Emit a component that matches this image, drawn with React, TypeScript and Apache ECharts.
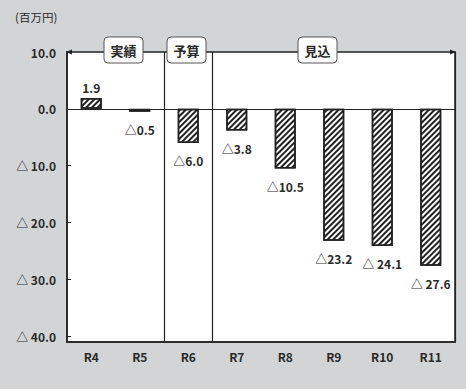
import React, { useEffect, useRef } from "react";
import * as echarts from "echarts";

const categories = ["R4", "R5", "R6", "R7", "R8", "R9", "R10", "R11"];
const values = [1.9, -0.5, -6.0, -3.8, -10.5, -23.2, -24.1, -27.6];
const valueLabels = ["1.9", "△0.5", "△6.0", "△3.8", "△10.5", "△23.2", "△ 24.1", "△ 27.6"];
const yTicks = [10, 0, -10, -20, -30, -40];
const yMin = -41;
const yMax = 10;
const unitLabel = "(百万円)";
const sections = ["実績", "予算", "見込"];
const dividerIndexes = [2, 3];

const FONT = "'Noto Sans CJK JP', 'Noto Sans', sans-serif";
const TEXT = "#2a2a2a";

const fmtTick = (v: number) => (v > 0 ? v.toFixed(1) : v === 0 ? "0.0" : "△ " + (-v).toFixed(1));

export default function App() {
  const ref = useRef<HTMLDivElement>(null);
  useEffect(() => {
    if (!ref.current) return;
    const chart = echarts.init(ref.current, null, { renderer: "svg" });
    const box = (label: string, x: number) => ({
      type: "group",
      x,
      y: 37,
      children: [
        {
          type: "rect",
          shape: { x: 0, y: 0, width: 39, height: 26, r: 4 },
          style: { fill: "#fff", stroke: "#555", lineWidth: 1 },
        },
        {
          type: "text",
          x: 19.5,
          y: 13,
          style: {
            text: label,
            fill: TEXT,
            font: `bold 13px ${FONT}`,
            textAlign: "center",
            textVerticalAlign: "middle",
          },
        },
      ],
    });
    chart.setOption({
      animation: false,
      backgroundColor: "#d3d4d6",
      grid: {
        left: 67,
        right: 11,
        top: 52,
        bottom: 47,
        show: true,
        backgroundColor: "#fff",
        borderColor: "#222",
        borderWidth: 1.5,
      },
      xAxis: {
        type: "category",
        data: categories,
        axisLine: { show: true, onZero: false, lineStyle: { color: "#222", width: 1.5 } },
        axisTick: { show: false },
        axisLabel: { color: TEXT, fontFamily: FONT, fontWeight: "bold", fontSize: 12, margin: 8 },
        splitLine: {
          show: true,
          interval: (index: number) => dividerIndexes.includes(index),
          lineStyle: { color: "#222", width: 1.2 },
        },
      },
      yAxis: {
        type: "value",
        min: yMin,
        max: yMax,
        axisLine: { show: true, lineStyle: { color: "#222", width: 1.5 } },
        axisTick: { show: true, inside: true, length: 4, customValues: yTicks, lineStyle: { color: "#222" } },
        axisLabel: {
          customValues: yTicks,
          formatter: fmtTick,
          color: TEXT,
          fontFamily: FONT,
          fontWeight: "bold",
          fontSize: 12,
          margin: 11,
        },
        splitLine: { show: false },
      },
      series: [
        {
          type: "bar",
          barWidth: 21,
          data: values.map((v, i) => ({
            value: v,
            label: {
              show: true,
              position: v >= 0 ? "top" : "bottom",
              distance: v >= 0 ? 5 : 12,
              formatter: valueLabels[i],
              color: TEXT,
              fontFamily: FONT,
              fontWeight: "bold",
              fontSize: 12,
            },
          })),
          itemStyle: {
            color: "#fff",
            borderColor: "#222",
            borderWidth: 1.5,
            decal: {
              symbol: "rect",
              symbolSize: 1,
              color: "#222",
              backgroundColor: "#fff",
              dashArrayX: [1, 0],
              dashArrayY: [1.3, 1.8],
              rotation: -Math.PI / 4,
            },
          },
          markLine: {
            silent: true,
            symbol: "none",
            label: { show: false },
            lineStyle: { color: "#222", width: 1.2, type: "solid" },
            data: [{ yAxis: 0 }],
          },
        },
      ],
      graphic: [
        {
          type: "text",
          left: 15,
          top: 11,
          style: { text: unitLabel, fill: TEXT, font: `11.5px ${FONT}` },
        },
        {
          type: "polygon",
          shape: { points: [[66, 52], [72, 49.5], [72, 54.5]] },
          style: { fill: "#222" },
        },
        {
          type: "polygon",
          shape: { points: [[456, 52], [450, 49.5], [450, 54.5]] },
          style: { fill: "#222" },
        },
        box(sections[0], 104),
        box(sections[1], 167),
        box(sections[2], 298),
      ],
    });
    return () => chart.dispose();
  }, []);
  return <div ref={ref} style={{ position: "fixed", left: 0, top: 0, width: 466, height: 389 }} />;
}
